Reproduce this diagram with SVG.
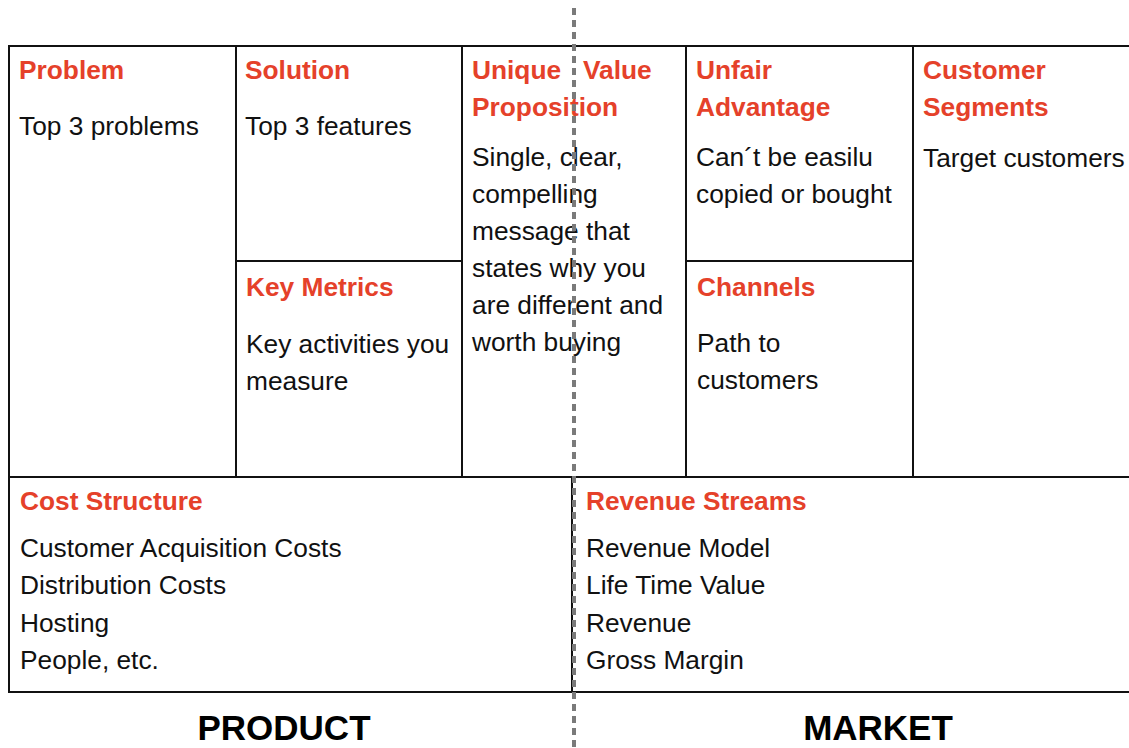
<svg xmlns="http://www.w3.org/2000/svg" width="1129" height="748" viewBox="0 0 1129 748">
<style>
.h{font-family:"Liberation Sans",Arial,sans-serif;font-size:26.3px;font-weight:bold;fill:#e5412a}
.b{font-family:"Liberation Sans",Arial,sans-serif;font-size:26.3px;fill:#111}
.big{font-family:"Liberation Sans",Arial,sans-serif;font-size:35px;font-weight:bold;fill:#000;text-anchor:middle}
.ln{stroke:#111;stroke-width:2;fill:none}
</style>
<rect width="1129" height="748" fill="#fff"/>
<g id="connectors">
<rect class="ln" x="9" y="46" width="1130" height="646"/>
<line class="ln" x1="9" y1="477" x2="1139" y2="477"/>
<line class="ln" x1="236" y1="46" x2="236" y2="477"/>
<line class="ln" x1="462" y1="46" x2="462" y2="477"/>
<line class="ln" x1="686" y1="46" x2="686" y2="477"/>
<line class="ln" x1="913" y1="46" x2="913" y2="477"/>
<line class="ln" x1="236" y1="261" x2="462" y2="261"/>
<line class="ln" x1="686" y1="261" x2="913" y2="261"/>
<line class="ln" x1="572" y1="477" x2="572" y2="692"/>
</g>
<g id="problem">
<text class="h" x="19" y="79">Problem</text>
<text class="b" x="19" y="135">Top 3 problems</text>
</g>
<g id="solution">
<text class="h" x="245" y="79">Solution</text>
<text class="b" x="245" y="135">Top 3 features</text>
</g>
<g id="key-metrics">
<text class="h" x="246" y="296">Key Metrics</text>
<text class="b" x="246" y="353">Key activities you</text>
<text class="b" x="246" y="390">measure</text>
</g>
<g id="uvp">
<text class="h" y="79"><tspan x="472">Unique</tspan><tspan x="583">Value</tspan></text>
<text class="h" x="472" y="116">Proposition</text>
<text class="b" x="472" y="166">Single, clear,</text>
<text class="b" x="472" y="203">compelling</text>
<text class="b" x="472" y="240">message that</text>
<text class="b" x="472" y="277">states why you</text>
<text class="b" x="472" y="314">are different and</text>
<text class="b" x="472" y="351">worth buying</text>
</g>
<g id="unfair-advantage">
<text class="h" x="696" y="79">Unfair</text>
<text class="h" x="696" y="116">Advantage</text>
<text class="b" x="696" y="166">Can´t be easilu</text>
<text class="b" x="696" y="203">copied or bought</text>
</g>
<g id="channels">
<text class="h" x="697" y="296">Channels</text>
<text class="b" x="697" y="352">Path to</text>
<text class="b" x="697" y="389">customers</text>
</g>
<g id="customer-segments">
<text class="h" x="923" y="79">Customer</text>
<text class="h" x="923" y="116">Segments</text>
<text class="b" x="923" y="167">Target customers</text>
</g>
<g id="cost-structure">
<text class="h" x="20" y="510">Cost Structure</text>
<text class="b" x="20" y="557">Customer Acquisition Costs</text>
<text class="b" x="20" y="594">Distribution Costs</text>
<text class="b" x="20" y="632">Hosting</text>
<text class="b" x="20" y="669">People, etc.</text>
</g>
<g id="revenue-streams">
<text class="h" x="586" y="510">Revenue Streams</text>
<text class="b" x="586" y="557">Revenue Model</text>
<text class="b" x="586" y="594">Life Time Value</text>
<text class="b" x="586" y="632">Revenue</text>
<text class="b" x="586" y="669">Gross Margin</text>
</g>
<g id="divider">
<line x1="574" y1="8" x2="574" y2="748" stroke="#7a7a7a" stroke-width="4" stroke-dasharray="7 5"/>
</g>
<g id="labels">
<text class="big" x="284" y="740">PRODUCT</text>
<text class="big" x="878" y="740">MARKET</text>
</g>
</svg>
